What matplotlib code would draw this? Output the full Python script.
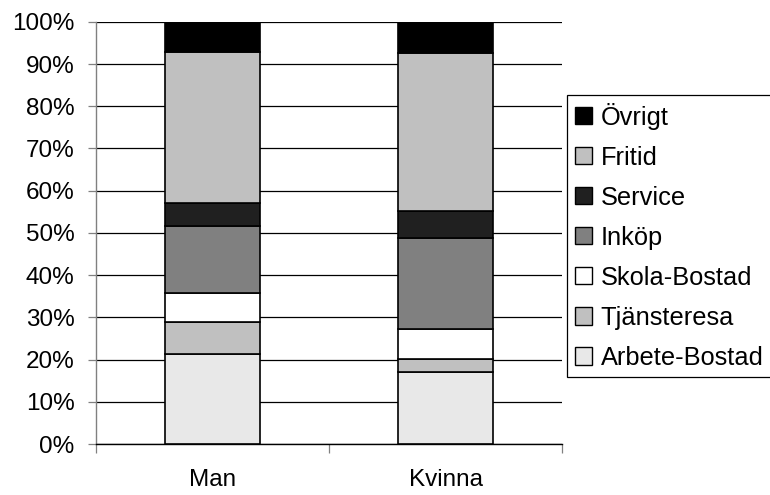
import matplotlib
matplotlib.use("Agg")
import matplotlib.pyplot as plt
import numpy as np
from matplotlib.ticker import FixedLocator, PercentFormatter

plt.rcParams['font.family'] = ['Liberation Sans', 'DejaVu Sans']

groups = ["Man", "Kvinna"]
categories = ["Arbete-Bostad", "Tjänsteresa", "Skola-Bostad", "Inköp",
              "Service", "Fritid", "Övrigt"]
man = [21.3, 7.7, 6.8, 15.8, 5.4, 35.9, 7.1]
kvinna = [17.1, 3.1, 7.1, 21.4, 6.4, 37.5, 7.4]
colors = ["#e8e8e8", "#c0c0c0", "#ffffff", "#808080",
          "#202020", "#c0c0c0", "#000000"]

values = np.array([man, kvinna]).T  # rows: categories, cols: groups

fig = plt.figure(figsize=(7.7, 4.95), dpi=100)
ax = fig.add_axes([0.1247, 0.103, 0.7299 - 0.1247, 0.956 - 0.103])

x = np.arange(len(groups))
bottom = np.zeros(len(groups))
handles = []
for cat, col, vals in zip(categories, colors, values):
    h = ax.bar(x, vals, bottom=bottom, width=0.41, color=col,
               edgecolor="black", linewidth=1.2, label=cat, zorder=3)
    handles.append(h)
    bottom += vals

ax.set_xlim(-0.5, len(groups) - 0.5)
ax.set_ylim(0, 100)
ax.yaxis.set_major_locator(FixedLocator(np.arange(0, 101, 10)))
ax.yaxis.set_major_formatter(PercentFormatter(decimals=0))
ax.yaxis.grid(True, color="black", linewidth=0.9, zorder=0)
ax.set_axisbelow(True)

ax.set_xticks(x)
ax.set_xticklabels(groups)
ax.xaxis.set_minor_locator(FixedLocator(np.arange(-0.5, len(groups), 1.0)))
ax.tick_params(axis="x", which="major", length=0, pad=18, labelsize=17.5)
ax.tick_params(axis="x", which="minor", length=6.5, width=0.9, direction="out",
               color="#808080")
ax.tick_params(axis="y", length=5.5, width=0.9, color="#808080",
               labelsize=17.5, pad=10)

for side in ("top", "right"):
    ax.spines[side].set_visible(False)
ax.spines["left"].set_color("#808080")
ax.spines["left"].set_linewidth(1.0)
ax.spines["bottom"].set_color("black")
ax.spines["bottom"].set_linewidth(1.0)

leg = fig.legend(handles[::-1], categories[::-1],
                 loc="upper left", bbox_to_anchor=(567 / 770, 1 - 95 / 495),
                 fontsize=18.3, frameon=True, fancybox=False,
                 edgecolor="black", framealpha=1, borderpad=0.3,
                 labelspacing=0.63, handlelength=0.68, handleheight=0.68,
                 handletextpad=0.35, borderaxespad=0)
leg.get_frame().set_linewidth(0.9)
for p in leg.get_patches():
    p.set_linewidth(1.0)

fig.savefig("out.png", dpi=100)
